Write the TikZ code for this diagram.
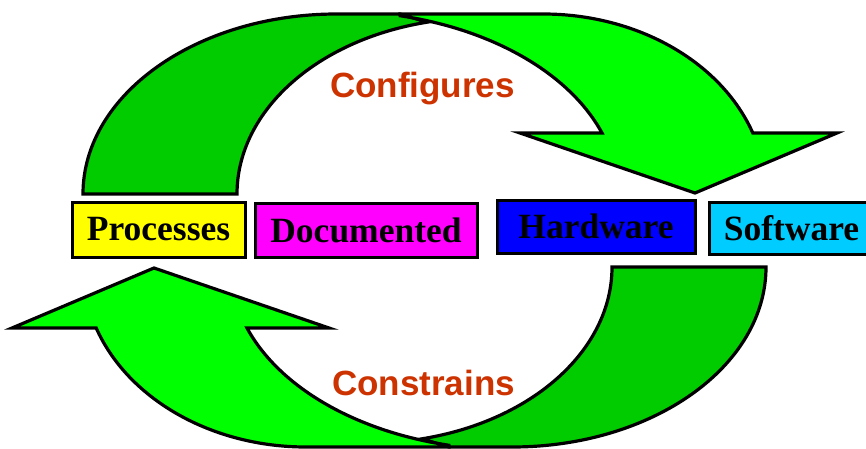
\documentclass[tikz,border=0pt]{standalone}
\usepackage{fontspec}
\setmainfont{Liberation Serif}
\newfontfamily\labelfont{Liberation Sans}
\definecolor{bandback}{RGB}{0,204,0}
\definecolor{bandfront}{RGB}{0,255,0}
\definecolor{labelred}{RGB}{204,51,0}
\definecolor{skyblue}{RGB}{0,204,255}
\definecolor{pinkbox}{RGB}{255,0,255}
\definecolor{yellowbox}{RGB}{255,255,0}
\definecolor{bluebox}{RGB}{0,0,255}

% one half of the cycle: the back band and the curved arrow in front of it
\newcommand\cyclehalf{%
  \filldraw[band, fill=bandback]
    (83,194) arc[start angle=180, end angle=270, x radius=254, y radius=180]
    -- (400,14) -- (427,22.2)
    arc[start angle=257.4, end angle=180, x radius=243, y radius=176]
    -- cycle;
  \filldraw[band, fill=bandfront]
    (400,14) -- (543,14)
    arc[start angle=270, end angle=340.2, x radius=223, y radius=180]
    -- (837,133) -- (695,193) -- (520,133) -- (602,133)
    arc[start angle=340.5, end angle=282.95, x radius=281, y radius=183]
    -- cycle;
}

\begin{document}
\begin{tikzpicture}[x=1pt, y=-1pt,
  band/.style={draw=black, line width=3.2pt, line join=miter},
  itembox/.style={draw=black, line width=3pt, inner sep=0pt,
    font=\fontsize{35.5}{35.5}\selectfont\bfseries},
  caption/.style={font=\labelfont\fontsize{35}{35}\selectfont\bfseries,
    text=labelred, anchor=base, inner sep=0pt}]
\useasboundingbox (0,0) rectangle (866,449);

% upper and lower halves of the cycle
\cyclehalf
\begin{scope}[rotate around={180:(424.5,230.5)}]
  \cyclehalf
\end{scope}

% labels inside the cycle
\node[caption] (configures) at (422.5,98) {Configures};
\node[caption] (constrains) at (423.5,395) {Constrains};

% the row of items
\node[itembox, fill=yellowbox, minimum width=173, minimum height=55]
  (processes) at (158.5,229.5) {Processes};
\node[itembox, fill=pinkbox, minimum width=222, minimum height=54]
  (documented) at (366,230) {Documented};
\node[itembox, fill=bluebox, minimum width=198, minimum height=53]
  (hardware) at (596,226.5) {Hardware};
\node[itembox, fill=skyblue, minimum width=165, minimum height=52]
  (software) at (791.5,228) {Software};
\end{tikzpicture}
\end{document}
